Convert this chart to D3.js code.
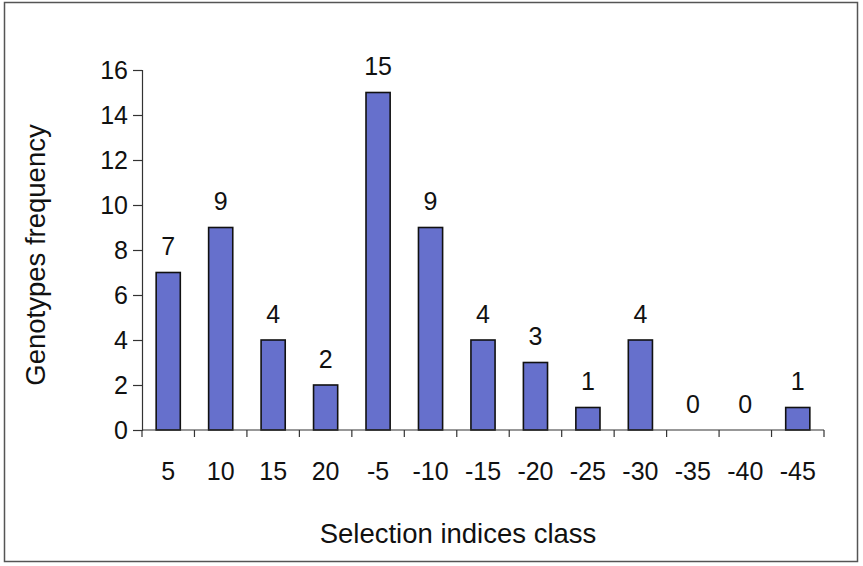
<!DOCTYPE html>
<html><head><meta charset="utf-8">
<script src="https://cdn.jsdelivr.net/npm/d3@7"></script>
<style>body{margin:0;background:#fff}svg{display:block}</style>
</head><body>
<script>
const categories = ["5","10","15","20","-5","-10","-15","-20","-25","-30","-35","-40","-45"];
const frequency = [7,9,4,2,15,9,4,3,1,4,0,0,1];
const yTicks = [0,2,4,6,8,10,12,14,16];

const W = 863, H = 566;
const svg = d3.select("body").append("svg").attr("width", W).attr("height", H);
const font = "Liberation Sans, Arial, sans-serif";

svg.append("rect").attr("x",4.5).attr("y",2.5).attr("width",853).attr("height",559)
  .attr("fill","none").attr("stroke","#555").attr("stroke-width",1.5);

const m = {l:142, r:824, t:70, b:430};
const x = d3.scaleBand().domain(categories).range([m.l, m.r]).paddingInner(0.54).paddingOuter(0.27);
const y = d3.scaleLinear().domain([0,16]).range([m.b, m.t]);

const yAxis = svg.append("g").attr("transform",`translate(${m.l},0)`)
  .call(d3.axisLeft(y).tickValues(yTicks).tickSize(9).tickPadding(5));
yAxis.selectAll("text").attr("font-family",font).attr("font-size",25).attr("fill","#111");
yAxis.selectAll("line,path").attr("stroke","#333").attr("stroke-width",1.2);

// bars
svg.selectAll("rect.bar").data(frequency).join("rect").attr("class","bar")
  .attr("x",(d,i)=>x(categories[i])).attr("width",x.bandwidth())
  .attr("y",d=>y(d)).attr("height",d=>y(0)-y(d))
  .attr("fill","#6670cc").attr("stroke","#111").attr("stroke-width",1.6);

// x axis
const step = (m.r - m.l)/categories.length;
const bounds = d3.range(categories.length+1).map(i=>m.l + i*step);
const xg = svg.append("g");
xg.append("line").attr("x1",m.l).attr("x2",m.r).attr("y1",y(0)).attr("y2",y(0)).attr("stroke","#333").attr("stroke-width",1.2);
xg.selectAll("line.t").data(bounds).join("line").attr("class","t")
  .attr("x1",d=>d).attr("x2",d=>d).attr("y1",y(0)).attr("y2",y(0)+7).attr("stroke","#333").attr("stroke-width",1.2);
xg.selectAll("text").data(categories).join("text")
  .attr("x",d=>x(d)+x.bandwidth()/2).attr("y",480).attr("text-anchor","middle")
  .attr("font-family",font).attr("font-size",25).attr("fill","#111").text(d=>d);

// value labels
svg.selectAll("text.val").data(frequency).join("text").attr("class","val")
  .attr("x",(d,i)=>x(categories[i])+x.bandwidth()/2).attr("y",d=>y(d)-17.5)
  .attr("text-anchor","middle").attr("font-family",font).attr("font-size",25).attr("fill","#111").text(d=>d);

svg.append("text").attr("x",458).attr("y",543).attr("text-anchor","middle")
  .attr("font-family",font).attr("font-size",27.5).attr("fill","#111").text("Selection indices class");
svg.append("text").attr("transform","translate(45,255) rotate(-90)").attr("text-anchor","middle")
  .attr("font-family",font).attr("font-size",27.5).attr("fill","#111").text("Genotypes frequency");
</script>
</body></html>
